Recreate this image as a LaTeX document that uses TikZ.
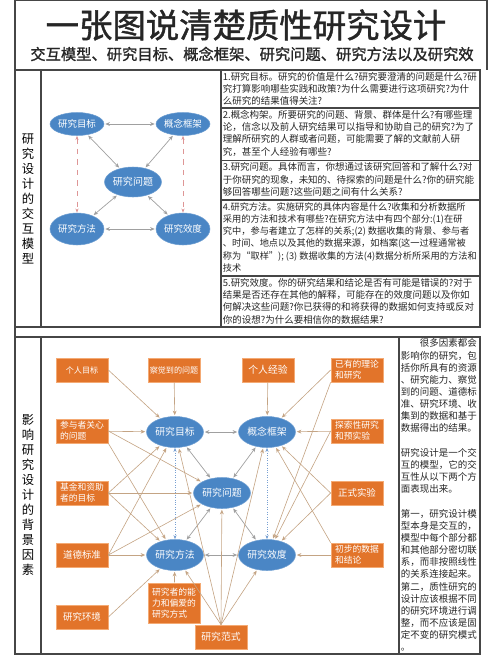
\documentclass[tikz,border=0pt]{standalone}
\usepackage{fontspec}
\setmainfont{Noto Sans CJK SC}
\newfontfamily\heavycjk[FakeBold=1.2]{Noto Sans CJK SC}
\usepackage{tikz}
\usetikzlibrary{positioning,arrows.meta,shapes.geometric}
\definecolor{ovalblue}{RGB}{74,134,197}
\definecolor{boxorange}{RGB}{226,116,42}
\definecolor{boxedge}{RGB}{244,170,116}
\definecolor{tanline}{RGB}{196,164,132}
\definecolor{linkgray}{RGB}{160,160,160}
\definecolor{dashpink}{RGB}{222,150,150}
\definecolor{dotblue}{RGB}{120,160,210}
\definecolor{framegray}{RGB}{70,70,70}

\begin{document}
\begin{tikzpicture}[x=0.02cm,y=-0.02cm,
    oval/.style={ellipse,fill=ovalblue,draw=ovalblue!80!white,line width=0.3pt,text=white,
                 inner sep=0pt,minimum width=1.08cm,minimum height=0.46cm,font=\fontsize{5.4}{6}\selectfont},
    midoval/.style={oval,minimum width=1.14cm,minimum height=0.6cm,font=\fontsize{5.7}{6}\selectfont},
    lowoval/.style={oval,minimum height=0.64cm},
    bigoval/.style={oval,minimum width=1.14cm,minimum height=0.62cm,font=\fontsize{5.6}{6}\selectfont},
    factor/.style={rectangle,fill=boxorange,draw=boxedge,line width=0.4pt,text=white,inner sep=0pt,
                   minimum width=1.04cm,minimum height=0.48cm,align=left,font=\fontsize{5}{6.3}\selectfont},
    cell/.style={anchor=north west,inner sep=0pt,align=left,font=\fontsize{5.4}{6.97}\selectfont,text=black!85},
    sidelabel/.style={inner sep=0pt,align=center,font=\fontsize{7}{8.5}\selectfont},
    twoway/.style={draw=linkgray,line width=0.4pt,shorten <=0.6pt,shorten >=0.6pt,
                   {Stealth[length=2.6pt,width=2.2pt]}-{Stealth[length=2.6pt,width=2.2pt]}},
    feed/.style={draw=tanline,line width=0.35pt,shorten >=0.6pt,-{Stealth[length=2.6pt,width=2.2pt]}},
    pinkdash/.style={draw=dashpink,line width=0.4pt,dashed,
                     {Stealth[length=2.4pt]}-{Stealth[length=2.4pt]}},
    bluedot/.style={draw=dotblue,line width=0.4pt,densely dotted,
                    {Stealth[length=2.4pt]}-{Stealth[length=2.4pt]}},
    rule/.style={draw=framegray,line width=0.6pt}
]
\useasboundingbox (0,0) rectangle (500,656);

% title
\node[inner sep=0pt,text=black!85,font=\heavycjk\fontsize{19}{22}\selectfont] (title) at (246,25) {一张图说清楚质性研究设计};
\node[inner sep=0pt,text=black!85,font=\heavycjk\fontsize{8.7}{10}\selectfont] (subtitle) at (252,54) {交互模型、研究目标、概念框架、研究问题、研究方法以及研究效};

% frames
\draw[rule] (15,0) -- (487,0) -- (487,70);
\draw[rule] (15,0) -- (15,654);
\draw[rule] (15,70) rectangle (480,327);
\draw[rule] (41,70) -- (41,327);
\draw[rule] (221,70) -- (221,327);
\draw[rule] (221,108) -- (480,108);
\draw[rule] (221,160.5) -- (480,160.5);
\draw[rule] (221,200) -- (480,200);
\draw[rule] (221,276) -- (480,276);
\draw[rule] (15,337) rectangle (480,654);
\draw[rule] (41,337) -- (41,654);
\draw[rule] (399,337) -- (399,654);

% top part
\node[sidelabel] (toplabel) at (28,199) {研\\究\\设\\计\\的\\交\\互\\模\\型};

\node[oval] (tgoal) at (77,124) {研究目标};
\node[oval] (tframe) at (183,124) {概念框架};
\node[midoval] (tques) at (133,182) {研究问题};
\node[lowoval] (tmeth) at (77,229) {研究方法};
\node[lowoval] (tvalid) at (183,229) {研究效度};

\draw[twoway] (tgoal) -- (tframe);
\draw[twoway] (tgoal) -- (tques);
\draw[twoway] (tframe) -- (tques);
\draw[twoway] (tmeth) -- (tques);
\draw[twoway] (tvalid) -- (tques);
\draw[twoway] (tmeth) -- (tvalid);
\draw[pinkdash] (tgoal) -- (tmeth);
\draw[pinkdash] (tframe) -- (tvalid);

\node[cell] (c1) at (222.5,72) {1.研究目标。研究的价值是什么?研究要澄清的问题是什么?研\\究打算影响哪些实践和政策?为什么需要进行这项研究?为什\\么研究的结果值得关注?};
\node[cell] (c2) at (222.5,110) {2.概念构架。所要研究的问题、背景、群体是什么?有哪些理\\论，信念以及前人研究结果可以指导和协助自己的研究?为了\\理解所研究的人群或者问题，可能需要了解的文献前人研\\究，甚至个人经验有哪些?};
\node[cell] (c3) at (222.5,162.5) {3.研究问题。具体而言，你想通过该研究回答和了解什么?对\\于你研究的现象，未知的、待探索的问题是什么?你的研究能\\够回答哪些问题?这些问题之间有什么关系?};
\node[cell,font=\fontsize{5.25}{6.97}\selectfont] (c4) at (222.5,202) {4.研究方法。实施研究的具体内容是什么?收集和分析数据所\\采用的方法和技术有哪些?在研究方法中有四个部分:(1)在研\\究中，参与者建立了怎样的关系;(2) 数据收集的背景、参与者\\、时间、地点以及其他的数据来源，如档案(这一过程通常被\\称为“取样”); (3) 数据收集的方法(4)数据分析所采用的方法和\\技术};
\node[cell] (c5) at (222.5,278) {5.研究效度。你的研究结果和结论是否有可能是错误的?对于\\结果是否还存在其他的解释，可能存在的效度问题以及你如\\何解决这些问题?你已获得的和将获得的数据如何支持或反对\\你的设想?为什么要相信你的数据结果?};

% bottom part
\node[sidelabel] (lowlabel) at (28,495) {影\\响\\研\\究\\设\\计\\的\\背\\景\\因\\素};

\node[bigoval] (goal) at (175,432) {研究目标};
\node[bigoval] (frame) at (267,432) {概念框架};
\node[bigoval] (ques) at (222,493) {研究问题};
\node[bigoval] (meth) at (175,555) {研究方法};
\node[bigoval] (valid) at (267,555) {研究效度};

\node[factor,font=\fontsize{4.6}{6}\selectfont] (pgoal) at (82,370) {个人目标};
\node[factor,font=\fontsize{4.6}{6}\selectfont] (perc) at (174,370) {察觉到的问题};
\node[factor,font=\fontsize{5.6}{6}\selectfont] (pexp) at (268,370) {个人经验};
\node[factor] (theory) at (357,370) {已有的理论\\和研究};
\node[factor] (partic) at (82,431) {参与者关心\\的问题};
\node[factor] (pilot) at (357,431) {探索性研究\\和预实验};
\node[factor] (fund) at (82,493) {基金和资助\\者的目标};
\node[factor,font=\fontsize{5.4}{6}\selectfont] (thexp) at (357,493) {正式实验};
\node[factor,font=\fontsize{5.4}{6}\selectfont] (ethic) at (82,555) {道德标准};
\node[factor] (prelim) at (357,555) {初步的数据\\和结论};
\node[factor,font=\fontsize{5.4}{6}\selectfont] (setting) at (82,617) {研究环境};
\node[factor,minimum height=0.8cm] (skill) at (174,603) {研究者的能\\力和偏爱的\\研究方式};
\node[factor,font=\fontsize{5.6}{6}\selectfont] (paradigm) at (221,637) {研究范式};

\draw[twoway] (goal) -- (frame);
\draw[twoway] (goal) -- (ques);
\draw[twoway] (frame) -- (ques);
\draw[twoway] (meth) -- (ques);
\draw[twoway] (valid) -- (ques);
\draw[twoway] (meth) -- (valid);
\draw[bluedot] (goal) -- (meth);
\draw[bluedot] (frame) -- (valid);

\draw[feed] (pgoal.east) -- (goal);
\draw[feed] (perc) -- (goal);
\draw[feed] (partic) -- (goal);
\draw[feed] (partic.east) -- (ques);
\draw[feed] (partic.south east) -- (meth);
\draw[feed] (fund) -- (ques);
\draw[feed] (fund.east) -- (goal);
\draw[feed] (fund.east) -- (meth);
\draw[feed] (ethic) -- (meth);
\draw[feed] (ethic.east) -- (goal);
\draw[feed] (ethic.east) -- (ques);
\draw[feed] (setting.east) -- (meth);
\draw[feed] (skill) -- (meth);
\draw[feed] (paradigm.north) -- (meth);
\draw[feed] (paradigm.north) -- (ques);
\draw[feed] (paradigm.north) -- (valid);
\draw[feed] (paradigm.north) -- (goal);
\draw[feed] (paradigm.north) -- (frame);
\draw[feed] (pexp) -- (frame);
\draw[feed] (theory.west) -- (frame);
\draw[feed] (theory.south west) -- (valid);
\draw[feed] (pilot) -- (frame);
\draw[feed] (pilot.west) -- (valid);
\draw[feed] (thexp.west) -- (frame);
\draw[feed] (thexp.west) -- (valid);
\draw[feed] (prelim) -- (valid);
\draw[feed] (prelim.north west) -- (frame);

\node[anchor=north west,inner sep=0pt,align=left,font=\fontsize{5.4}{6.92}\selectfont,text=black!85] (note) at (400.5,338.5)
  {\hspace*{2em}很多因素都会\\影响你的研究，包\\括你所具有的资源\\、研究能力、察觉\\到的问题、道德标\\准、研究环境、收\\集到的数据和基于\\数据得出的结果。\\[6.92pt]研究设计是一个交\\互的模型，它的交\\互性从以下两个方\\面表现出来。\\[6.92pt]第一，研究设计模\\型本身是交互的，\\模型中每个部分都\\和其他部分密切联\\系，而非按照线性\\的关系连接起来。\\第二，质性研究的\\设计应该根据不同\\的研究环境进行调\\整，而不应该是固\\定不变的研究模式\\。};
\end{tikzpicture}
\end{document}
